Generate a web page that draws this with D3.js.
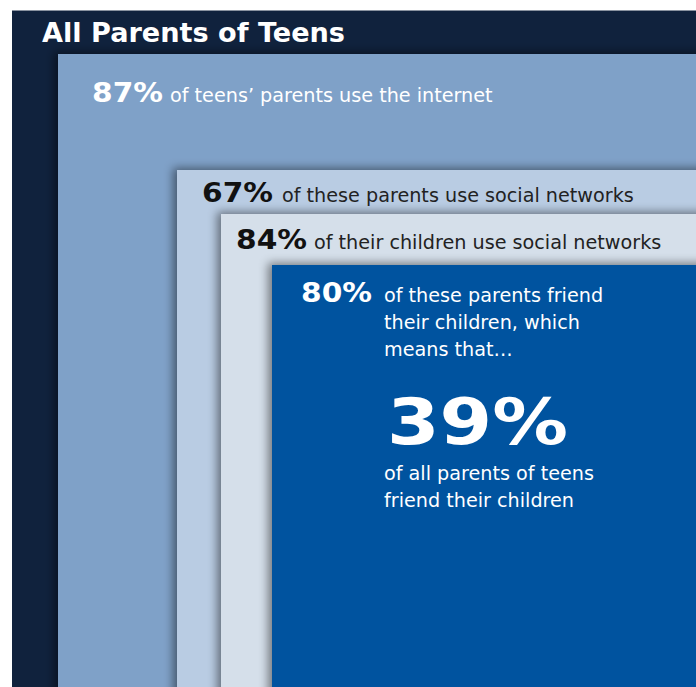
<!DOCTYPE html>
<html>
<head>
<meta charset="utf-8">
<script src="https://cdn.jsdelivr.net/npm/d3@7"></script>
<style>
  html, body { margin: 0; padding: 0; background: #ffffff; }
  svg { display: block; }
</style>
</head>
<body>
<svg id="chart" width="696" height="687"></svg>
<script>
// ---- data ----
const levels = ["all", "internet", "socialParents", "socialChildren", "friend"];
const percents = [null, 87, 67, 84, 80];
const labelLines = [
  ["All Parents of Teens"],
  ["of teens\u2019 parents use the internet"],
  ["of these parents use social networks"],
  ["of their children use social networks"],
  ["of these parents friend", "their children, which", "means that\u2026"]
];
const resultValue = 39;
const resultLines = ["of all parents of teens", "friend their children"];

// ---- layout / style ----
const W = 696, H = 687;
const fills = ["#10223d", "#7fa1c8", "#b9cce3", "#d5dfea", "#00529f"];
const pctColors = [null, "#ffffff", "#111111", "#111111", "#ffffff"];
const txtColors = ["#ffffff", "#ffffff", "#222222", "#222222", "#ffffff"];

const xLeft = d3.scaleOrdinal().domain(levels).range([12, 58, 177, 221, 272]);
const yTop = d3.scaleOrdinal().domain(levels).range([10, 54, 170, 214, 265]);

const svg = d3.select("#chart");
const defs = svg.append("defs");
const f = defs.append("filter").attr("id", "shadow")
  .attr("x", "-20%").attr("y", "-20%").attr("width", "140%").attr("height", "140%");
f.append("feDropShadow").attr("dx", -4).attr("dy", -2).attr("stdDeviation", 5)
  .attr("flood-color", "#000").attr("flood-opacity", 0.45);

const data = levels.map((k, i) => ({ key: k, i, pct: percents[i], lines: labelLines[i] }));

svg.selectAll("rect.level").data(data).join("rect")
  .attr("class", "level")
  .attr("x", d => xLeft(d.key))
  .attr("y", d => yTop(d.key))
  .attr("width", d => W + 20 - xLeft(d.key))
  .attr("height", d => H + 20 - yTop(d.key))
  .attr("fill", d => fills[d.i])
  .attr("filter", d => d.i > 0 ? "url(#shadow)" : null);

// thin top highlight on the outer box
svg.append("line").attr("x1", xLeft("all")).attr("x2", W).attr("y1", 10.5).attr("y2", 10.5)
  .attr("stroke", "#8a93a0").attr("stroke-width", 1);

const FONT = "'DejaVu Sans', Verdana, sans-serif";
const BODY = 19.2;

// Title
svg.append("text")
  .attr("x", 42).attr("y", 42)
  .attr("font-family", FONT).attr("font-weight", "bold").attr("font-size", 26)
  .attr("fill", "#ffffff")
  .attr("textLength", 303).attr("lengthAdjust", "spacingAndGlyphs")
  .text(labelLines[0][0]);

// level labels
const pctPos = { internet: [92, 102], socialParents: [202, 202], socialChildren: [236, 249], friend: [301, 302] };
const txtX = { internet: 170, socialParents: 282, socialChildren: 314, friend: 384 };

data.filter(d => d.pct != null).forEach(d => {
  const [px, py] = pctPos[d.key];
  svg.append("text")
    .attr("x", px).attr("y", py)
    .attr("font-family", FONT).attr("font-weight", "bold").attr("font-size", 26.5)
    .attr("fill", pctColors[d.i])
    .attr("textLength", 71).attr("lengthAdjust", "spacingAndGlyphs")
    .text(d.pct + "%");
  d.lines.forEach((line, j) => {
    svg.append("text")
      .attr("x", txtX[d.key]).attr("y", py + j * 27)
      .attr("font-family", FONT).attr("font-size", BODY)
      .attr("fill", txtColors[d.i])
      .text(line);
  });
});

// result
svg.append("text")
  .attr("x", 387).attr("y", 444)
  .attr("font-family", FONT).attr("font-weight", "bold").attr("font-size", 64)
  .attr("fill", "#ffffff")
  .attr("textLength", 181).attr("lengthAdjust", "spacingAndGlyphs")
  .text(resultValue + "%");
resultLines.forEach((line, j) => {
  svg.append("text")
    .attr("x", 384).attr("y", 480 + j * 27)
    .attr("font-family", FONT).attr("font-size", BODY)
    .attr("fill", "#ffffff")
    .text(line);
});
</script>
</body>
</html>
